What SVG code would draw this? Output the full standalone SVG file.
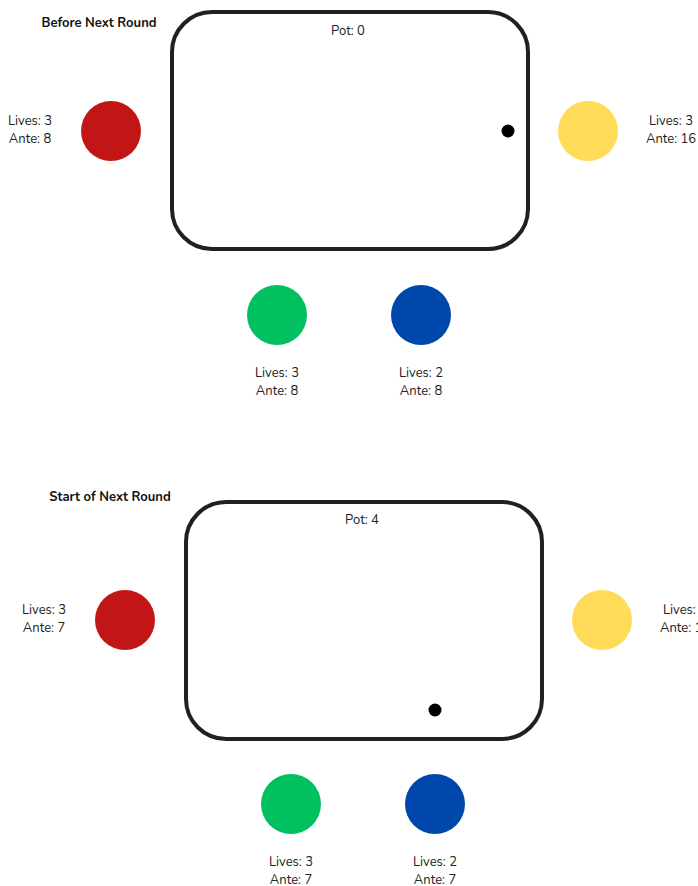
<svg xmlns="http://www.w3.org/2000/svg" width="698" height="886" viewBox="0 0 698 886">
<style>
text{font-family:"Nunito","Lato","Noto Sans",sans-serif;font-size:13px;fill:#222;text-anchor:middle}
.t{font-weight:bold;fill:#111}
.table{fill:#fff;stroke:#231f20;stroke-width:4}
.red{fill:#c21515}.yel{fill:#ffdb58}.grn{fill:#00c060}.blu{fill:#0047ab}
.dot{fill:#000}
</style>
<rect width="698" height="886" fill="#fff"/>
<g id="top">
<text class="t" x="99" y="27">Before Next Round</text>
<g id="table1"><rect class="table" x="172" y="12" width="356" height="237" rx="40"/><text x="348" y="35">Pot: 0</text></g>
<g id="red1"><circle class="red" cx="111" cy="131" r="30"/><text x="30" y="125">Lives: 3</text><text x="30" y="143">Ante: 8</text></g>
<g id="yellow1"><circle class="yel" cx="588" cy="131" r="30"/><text x="671" y="125">Lives: 3</text><text x="671" y="143">Ante: 16</text></g>
<g id="green1"><circle class="grn" cx="277" cy="315" r="30"/><text x="277" y="377">Lives: 3</text><text x="277" y="395">Ante: 8</text></g>
<g id="blue1"><circle class="blu" cx="421" cy="315" r="30"/><text x="421" y="377">Lives: 2</text><text x="421" y="395">Ante: 8</text></g>
<g id="dot1"><circle class="dot" cx="508" cy="131" r="6.5"/></g>
</g>
<g id="bottom">
<text class="t" x="110" y="501">Start of Next Round</text>
<g id="table2"><rect class="table" x="186" y="502" width="356" height="237" rx="40"/><text x="362" y="524">Pot: 4</text></g>
<g id="red2"><circle class="red" cx="125" cy="620" r="30"/><text x="44" y="614">Lives: 3</text><text x="44" y="632">Ante: 7</text></g>
<g id="yellow2"><circle class="yel" cx="602" cy="620" r="30"/><text x="685" y="614">Lives: 3</text><text x="685" y="632">Ante: 16</text></g>
<g id="green2"><circle class="grn" cx="291" cy="804" r="30"/><text x="291" y="866">Lives: 3</text><text x="291" y="884">Ante: 7</text></g>
<g id="blue2"><circle class="blu" cx="435" cy="804" r="30"/><text x="435" y="866">Lives: 2</text><text x="435" y="884">Ante: 7</text></g>
<g id="dot2"><circle class="dot" cx="435" cy="710" r="6.5"/></g>
</g>
<g id="connectors"/>
</svg>
